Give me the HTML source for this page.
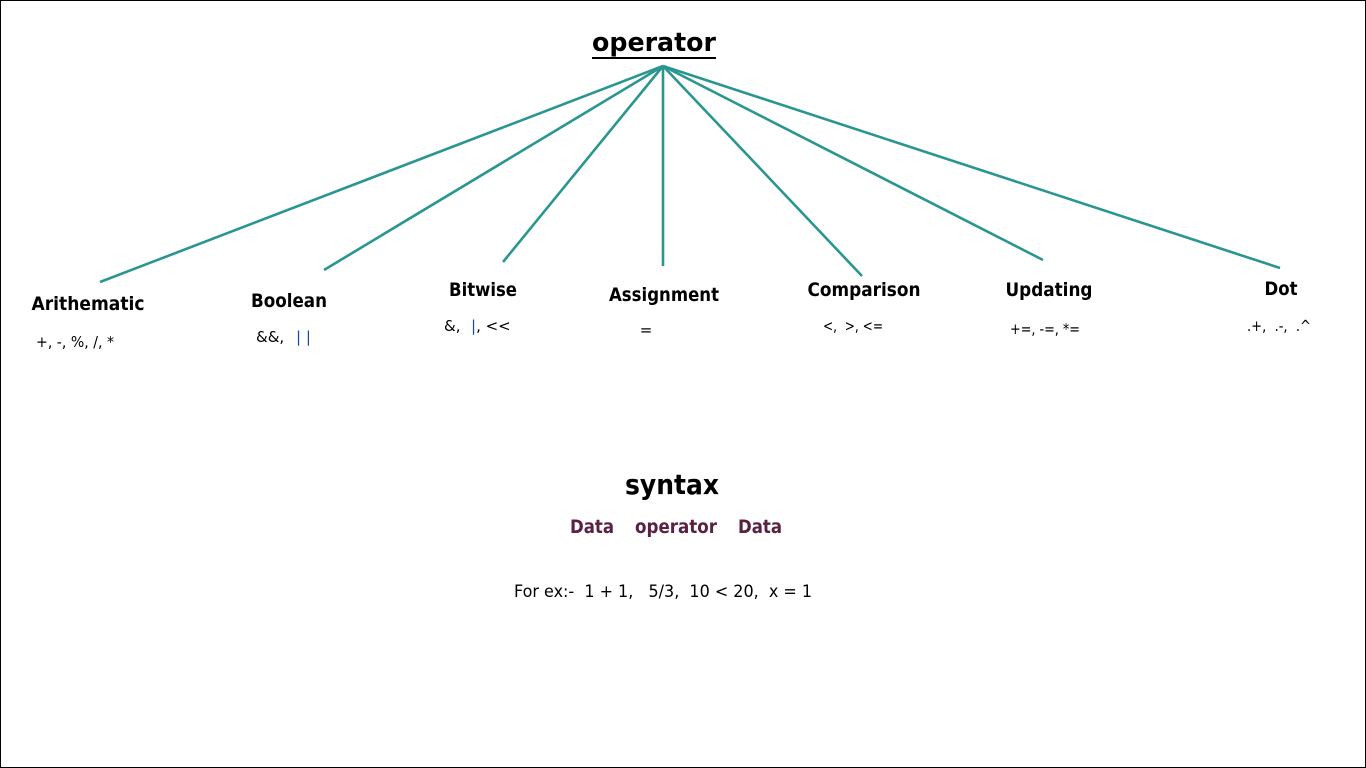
<!DOCTYPE html>
<html><head><meta charset="utf-8"><style>
html,body{margin:0;padding:0;background:#fff}
body{width:1366px;height:768px;overflow:hidden;position:relative}
svg{position:absolute;left:0;top:0}
text{font-family:"DejaVu Sans","Liberation Sans",sans-serif;white-space:pre}
</style></head><body>
<svg width="1366" height="768" viewBox="0 0 1366 768" xml:space="preserve">
<rect x="0.5" y="0.5" width="1365" height="767" fill="#fff" stroke="#000" stroke-width="1"/>
<g stroke="#2a9690" stroke-width="2.6" fill="none">
<line x1="663" y1="66" x2="100" y2="282"/>
<line x1="663" y1="66" x2="324" y2="270"/>
<line x1="663" y1="66" x2="503" y2="262"/>
<line x1="663" y1="66" x2="663" y2="266"/>
<line x1="663" y1="66" x2="862" y2="276"/>
<line x1="663" y1="66" x2="1043" y2="260"/>
<line x1="663" y1="66" x2="1280" y2="268"/>
</g>
<text x="654" y="51" text-anchor="middle" font-size="26" font-weight="bold" textLength="124" lengthAdjust="spacingAndGlyphs">operator</text>
<line x1="592" y1="58" x2="716" y2="58" stroke="#000" stroke-width="2"/>
<g font-size="19" font-weight="bold" text-anchor="middle">
<text x="88" y="310" textLength="113" lengthAdjust="spacingAndGlyphs">Arithematic</text>
<text x="289" y="307" textLength="76" lengthAdjust="spacingAndGlyphs">Boolean</text>
<text x="483" y="296" textLength="68" lengthAdjust="spacingAndGlyphs">Bitwise</text>
<text x="664" y="301" textLength="110" lengthAdjust="spacingAndGlyphs">Assignment</text>
<text x="864" y="296" textLength="113" lengthAdjust="spacingAndGlyphs">Comparison</text>
<text x="1049" y="296" textLength="87" lengthAdjust="spacingAndGlyphs">Updating</text>
<text x="1281" y="295" textLength="33" lengthAdjust="spacingAndGlyphs">Dot</text>
</g>
<g font-size="15" text-anchor="middle">
<text x="75" y="347" textLength="78" lengthAdjust="spacingAndGlyphs">+, -, %, /, *</text>
<text x="256" y="342" text-anchor="start">&amp;&amp;,</text>
<text x="296" y="342" text-anchor="start" fill="#1a4aa0">| |</text>
<text x="444" y="331" text-anchor="start">&amp;,</text>
<text x="471" y="331" text-anchor="start"><tspan fill="#1a4aa0">|</tspan>, &lt;&lt;</text>
<text x="646" y="335">=</text>
<text x="853" y="331" textLength="60" lengthAdjust="spacingAndGlyphs">&lt;,  &gt;, &lt;=</text>
<text x="1045" y="334" textLength="70" lengthAdjust="spacingAndGlyphs">+=, -=, *=</text>
<text x="1279" y="331" textLength="64" lengthAdjust="spacingAndGlyphs">.+,  .-,  .^</text>
</g>
<text x="672" y="494" text-anchor="middle" font-size="28" font-weight="bold" textLength="94" lengthAdjust="spacingAndGlyphs">syntax</text>
<g font-size="19" font-weight="bold" fill="#5a2142" text-anchor="middle">
<text x="592" y="533" textLength="44" lengthAdjust="spacingAndGlyphs">Data</text>
<text x="676" y="533" textLength="82" lengthAdjust="spacingAndGlyphs">operator</text>
<text x="760" y="533" textLength="44" lengthAdjust="spacingAndGlyphs">Data</text>
</g>
<text x="663" y="597" text-anchor="middle" font-size="17" textLength="298" lengthAdjust="spacingAndGlyphs">For ex:-  1 + 1,   5/3,  10 &lt; 20,  x = 1</text>
</svg>
</body></html>
